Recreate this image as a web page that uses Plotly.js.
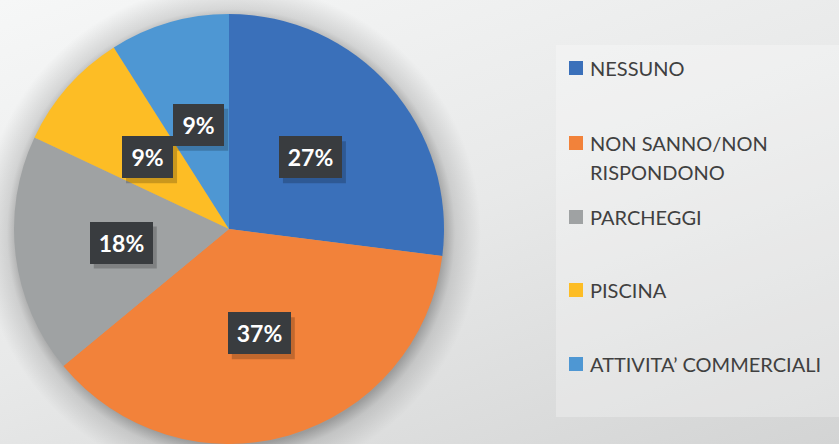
<!DOCTYPE html>
<html>
<head>
<meta charset="utf-8">
<script src="https://cdn.plot.ly/plotly-3.0.1.min.js"></script>
<style>
  html, body { margin: 0; padding: 0; }
  body {
    width: 839px; height: 444px; overflow: hidden;
    background:
      radial-gradient(circle at 231px 233px, rgba(0,0,0,0.30) 212px, rgba(0,0,0,0.12) 224px, rgba(0,0,0,0) 250px),
      linear-gradient(160deg, #f6f7f7 0%, #e8e9e9 50%, #d3d4d4 100%);
  }
  #chart { width: 839px; height: 444px; }
</style>
</head>
<body>
<div id="chart"></div>
<script>
// ---- data ----
const categories = ['NESSUNO', 'NON SANNO/NON RISPONDONO', 'PARCHEGGI', 'PISCINA', "ATTIVITA\u2019 COMMERCIALI"];
const values = [27, 37, 18, 9, 9];
const percentLabels = ['27%', '37%', '18%', '9%', '9%'];
const legendLines = [['NESSUNO'], ['NON SANNO/NON', 'RISPONDONO'], ['PARCHEGGI'], ['PISCINA'], ["ATTIVITA\u2019 COMMERCIALI"]];
const colors = ['#3a70ba', '#f2823a', '#9fa2a3', '#fdbd25', '#4e97d3'];

// ---- layout geometry (pixels) ----
const W = 839, H = 444;
const cx = 229, cy = 229, R = 215;
const labelFrac = 0.505;
const legendY = [68, 143, 217, 290, 364];
const legendLineGap = 29;
const legendSqX = 569, legendSq = 14, legendTextX = 588;
const pad = 8, boxH = 42;

const px = x => x / W;
const py = y => 1 - y / H;

const trace = {
  type: 'pie',
  labels: categories,
  values: values,
  sort: false,
  direction: 'clockwise',
  rotation: 0,
  textinfo: 'none',
  hoverinfo: 'none',
  showlegend: false,
  marker: { colors: colors, line: { width: 0 } },
  domain: { x: [(cx - R) / W, (cx + R) / W], y: [py(cy + R), py(cy - R)] }
};

const annotations = [];
const shapes = [];

// legend panel
shapes.push({ type: 'rect', xref: 'paper', yref: 'paper', x0: px(556), x1: px(839), y0: py(417), y1: py(45),
  fillcolor: 'rgba(255,255,255,0.28)', line: { width: 0 }, layer: 'below' });

// percentage labels at slice mid-angles
const total = values.reduce((a, b) => a + b, 0);
let cum = 0;
values.forEach((v, i) => {
  const mid = (cum + v / 2) / total * 2 * Math.PI;
  cum += v;
  const x = cx + labelFrac * R * Math.sin(mid);
  const y = cy - labelFrac * R * Math.cos(mid);
  const boxW = 12 * percentLabels[i].length + 27;
  // shadow
  shapes.push({ type: 'rect', xref: 'paper', yref: 'paper', layer: 'above',
    x0: px(x - boxW / 2 + 4), x1: px(x + boxW / 2 + 4), y0: py(y + boxH / 2 + 5), y1: py(y - boxH / 2 + 5),
    fillcolor: 'rgba(0,0,0,0.2)', line: { width: 0 } });
  annotations.push({ xref: 'paper', yref: 'paper', x: px(x), y: py(y), xanchor: 'center', yanchor: 'middle',
    text: '<b>' + percentLabels[i] + '</b>', showarrow: false,
    width: boxW - 2 * pad, height: boxH - 2 * pad, borderwidth: 0,
    font: { family: 'Lato, sans-serif', size: 23, color: '#ffffff' },
    bgcolor: '#393c3f', borderpad: pad });
});

// custom legend
categories.forEach((c, i) => {
  const y0 = legendY[i];
  shapes.push({ type: 'rect', xref: 'paper', yref: 'paper',
    x0: px(legendSqX), x1: px(legendSqX + legendSq), y0: py(y0 + legendSq / 2), y1: py(y0 - legendSq / 2),
    fillcolor: colors[i], line: { width: 0 } });
  legendLines[i].forEach((line, j) => {
    annotations.push({ xref: 'paper', yref: 'paper', x: px(legendTextX), y: py(y0 + j * legendLineGap),
      xanchor: 'left', yanchor: 'middle', text: line, showarrow: false,
      font: { family: 'Lato, sans-serif', size: 20, color: '#404040' } });
  });
});

const layout = {
  width: W, height: H,
  margin: { l: 0, r: 0, t: 0, b: 0 },
  paper_bgcolor: 'rgba(0,0,0,0)',
  plot_bgcolor: 'rgba(0,0,0,0)',
  showlegend: false,
  annotations: annotations,
  shapes: shapes
};

Plotly.newPlot('chart', [trace], layout, { displayModeBar: false, staticPlot: true });
</script>
</body>
</html>
